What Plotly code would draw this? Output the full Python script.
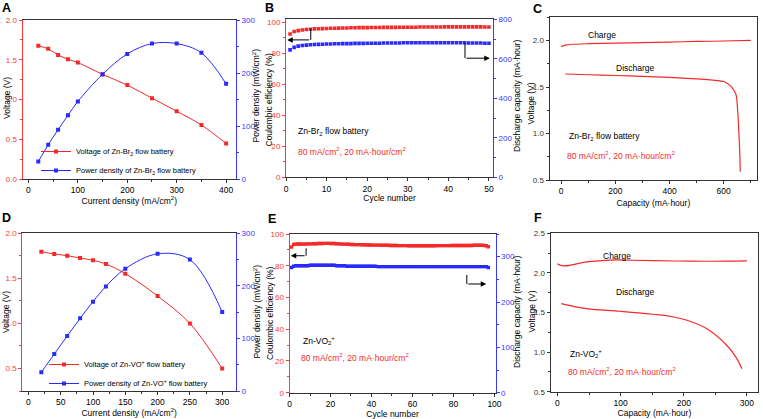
import plotly.graph_objects as go

W, H = 763, 419
FONT = "Liberation Sans, Arial, sans-serif"
RED = "#f42a2a"
BLUE = "#2a2aff"
AXR = "#ff3a3a"
AXB = "#3a3aff"
DARK = "#333333"

# ---------------- data ----------------
# Panel A: Zn-Br2 polarization
a_current = [20, 40, 60, 80, 100, 150, 200, 250, 300, 350, 400]
a_voltage = [1.675, 1.637, 1.561, 1.506, 1.464, 1.316, 1.181, 1.017, 0.852, 0.679, 0.447]
a_power = [33.0, 64.6, 93.0, 120.3, 146.2, 197.5, 236.0, 255.5, 255.5, 238.0, 179.5]

# Panel B: Zn-Br2 cycling
b_cycles = list(range(1, 51))
b_ce = [92.4, 94.0, 94.6, 95.0, 95.3, 95.5, 95.7, 95.8, 95.9, 96.0,
        96.1, 96.1, 96.2, 96.3, 96.3, 96.4, 96.4, 96.5, 96.5, 96.5,
        96.6, 96.6, 96.6, 96.7, 96.7, 96.7, 96.7, 96.8, 96.8, 96.8,
        96.8, 96.8, 96.9, 96.9, 96.9, 96.9, 96.9, 96.9, 97.0, 97.0,
        97.0, 97.0, 97.0, 97.0, 97.0, 97.0, 97.0, 97.0, 96.9, 96.9]
b_cap = [645, 658, 664, 667, 669, 671, 672, 673, 674, 675,
         675, 676, 676, 677, 677, 677, 678, 678, 678, 679,
         679, 679, 679, 680, 680, 680, 680, 680, 681, 681,
         681, 681, 681, 681, 681, 681, 681, 681, 681, 681,
         681, 681, 681, 681, 680, 680, 680, 680, 679, 679]

# Panel C: Zn-Br2 charge / discharge
c_charge_cap = [0, 15, 40, 100, 200, 300, 400, 500, 600, 700]
c_charge_v = [1.935, 1.950, 1.960, 1.966, 1.972, 1.978, 1.984, 1.990, 1.995, 2.002]
c_dis_cap = [15, 100, 200, 300, 400, 500, 560, 600, 622, 641, 647, 653, 659, 661]
c_dis_v = [1.640, 1.632, 1.624, 1.615, 1.603, 1.588, 1.574, 1.560, 1.520, 1.450, 1.400, 1.180, 0.820, 0.590]

# Panel D: Zn-VO+ polarization
d_current = [20, 40, 60, 80, 100, 120, 150, 200, 250, 300]
d_voltage = [1.796, 1.770, 1.752, 1.726, 1.700, 1.659, 1.552, 1.304, 1.000, 0.500]
d_power = [35.5, 70.4, 104.6, 138.2, 170.0, 199.0, 232.7, 261.0, 250.0, 150.3]

# Panel E: Zn-VO2+ cycling
e_cycles = list(range(1, 98))
e_ce = [91.8,
        93.4, 93.6, 93.7, 93.7, 93.6, 93.6, 93.7, 93.8, 93.8,
        93.8, 93.9, 93.9, 94.0, 94.0, 94.0, 94.1, 94.1, 94.1, 94.0,
        94.0, 94.0, 93.9, 93.8, 93.7, 93.6, 93.6, 93.5, 93.5, 93.4,
        93.4, 93.3, 93.3, 93.3, 93.2, 93.2, 93.2, 93.1, 93.1, 93.1,
        93.0, 93.0, 93.0, 93.0, 92.9, 92.9, 92.9, 92.9, 92.8, 92.8,
        92.8, 92.8, 92.7, 92.7, 92.7, 92.7, 92.7, 92.6, 92.6, 92.6,
        92.6, 92.6, 92.6, 92.6, 92.6, 92.6, 92.6, 92.6, 92.6, 92.6,
        92.6, 92.7, 92.7, 92.7, 92.7, 92.7, 92.7, 92.7, 92.8, 92.8,
        92.8, 92.8, 92.8, 92.8, 92.8, 92.8, 92.8, 92.8, 92.8, 92.9,
        92.9, 92.9, 92.9, 92.9, 92.8, 92.6, 92.0]
e_cap = [276,
         279, 280, 280, 280, 280, 280, 280, 280, 281,
         281, 281, 281, 281, 281, 281, 281, 281, 281, 281,
         281, 281, 280, 280, 280, 280, 280, 279, 279, 279,
         279, 279, 279, 279, 279, 279, 279, 279, 279, 279,
         279, 279, 278, 278, 278, 278, 278, 278, 278, 278,
         278, 278, 278, 278, 278, 278, 278, 278, 278, 278,
         278, 278, 278, 278, 278, 278, 278, 278, 278, 278,
         278, 278, 278, 278, 278, 278, 278, 278, 278, 278,
         278, 278, 278, 278, 278, 278, 278, 278, 278, 278,
         278, 278, 278, 278, 278, 278, 276]

# Panel F: Zn-VO2+ charge / discharge
f_charge_cap = [0, 9, 25, 46, 70, 94, 120, 152, 190, 231, 270, 300]
f_charge_v = [2.114, 2.088, 2.105, 2.139, 2.155, 2.164, 2.160, 2.156, 2.150, 2.147, 2.148, 2.152]
f_dis_cap = [6, 46, 99, 152, 178, 205, 236, 268, 284, 292]
f_dis_v = [1.613, 1.549, 1.516, 1.478, 1.453, 1.402, 1.297, 1.086, 0.918, 0.790]

# Annotation arrows (tail-x, tail-top-y, corner-y, tip-x) in data units
b_arrow_left = (6.1, 96.0, 88.6, 0.3)
b_arrow_right = (44.1, 86.5, 76.8, 50.2)
e_arrow_left = (8.1, 91.0, 86.3, 0.6)
e_arrow_right = (86.5, 74.2, 68.5, 96.0)

# ---------------- layout helpers ----------------
def xd(a, b):
    return [a / W, b / W]

def yd(top, bottom):
    return [1 - bottom / H, 1 - top / H]

tf = dict(family=FONT, size=8.5, color="black")

def xaxis(dom, anchor, rng, dtick, minor, title, mirror=True, standoff=1):
    return dict(domain=dom, anchor=anchor, range=rng, dtick=dtick, tick0=0,
                showline=True, linecolor=DARK, linewidth=1, mirror=mirror,
                ticks="outside", ticklen=3, tickcolor=DARK, showgrid=False, zeroline=False,
                tickfont=tf, minor=dict(ticks="outside", ticklen=2, dtick=minor, tick0=0, tickcolor=DARK),
                title=dict(text=title, font=tf, standoff=standoff))

def yaxis(dom, anchor, rng, dtick, minor, color, fmt=None, side="left", overlay=None, mirror=False):
    d = dict(domain=dom, anchor=anchor, range=rng, dtick=dtick, tick0=0, side=side,
             showline=True, linecolor=color, linewidth=1, mirror=mirror,
             ticks="outside", ticklen=3, tickcolor=color, showgrid=False, zeroline=False,
             tickfont=dict(family=FONT, size=8, color=color),
             minor=dict(ticks="outside", ticklen=2, dtick=minor, tick0=0, tickcolor=color))
    if fmt:
        d["tickformat"] = fmt
    if overlay:
        d["overlaying"] = overlay
    return d

fig = go.Figure()

# ---- A ----
fig.add_trace(go.Scatter(x=a_current, y=a_voltage, mode="lines+markers", xaxis="x", yaxis="y",
                         line=dict(color=RED, width=1, shape="spline"),
                         marker=dict(symbol="square", size=4, color=RED),
                         name="Voltage of Zn-Br<sub>2</sub> flow battery", legend="legend"))
fig.add_trace(go.Scatter(x=a_current, y=a_power, mode="lines+markers", xaxis="x", yaxis="y7",
                         line=dict(color=BLUE, width=1, shape="spline"),
                         marker=dict(symbol="square", size=4, color=BLUE),
                         name="Power density of Zn-Br<sub>2</sub> flow battery", legend="legend"))
# ---- B ----
fig.add_trace(go.Scatter(x=b_cycles, y=b_ce, mode="markers", xaxis="x2", yaxis="y2",
                         marker=dict(symbol="square", size=3.6, color=RED), showlegend=False))
fig.add_trace(go.Scatter(x=b_cycles, y=b_cap, mode="markers", xaxis="x2", yaxis="y8",
                         marker=dict(symbol="square", size=3.6, color=BLUE), showlegend=False))
# ---- C ----
fig.add_trace(go.Scatter(x=c_charge_cap, y=c_charge_v, mode="lines", xaxis="x3", yaxis="y3",
                         line=dict(color=RED, width=1.2, shape="spline", smoothing=0.6), showlegend=False))
fig.add_trace(go.Scatter(x=c_dis_cap, y=c_dis_v, mode="lines", xaxis="x3", yaxis="y3",
                         line=dict(color=RED, width=1.2, shape="spline", smoothing=0.5), showlegend=False))
# ---- D ----
fig.add_trace(go.Scatter(x=d_current, y=d_voltage, mode="lines+markers", xaxis="x4", yaxis="y4",
                         line=dict(color=RED, width=1, shape="spline"),
                         marker=dict(symbol="square", size=4, color=RED),
                         name="Voltage of Zn-VO<sup>+</sup> flow battery", legend="legend2"))
fig.add_trace(go.Scatter(x=d_current, y=d_power, mode="lines+markers", xaxis="x4", yaxis="y9",
                         line=dict(color=BLUE, width=1, shape="spline"),
                         marker=dict(symbol="square", size=4, color=BLUE),
                         name="Power density of Zn-VO<sup>+</sup> flow battery", legend="legend2"))
# ---- E ----
fig.add_trace(go.Scatter(x=e_cycles, y=e_ce, mode="markers", xaxis="x5", yaxis="y5",
                         marker=dict(symbol="square", size=3.4, color=RED), showlegend=False))
fig.add_trace(go.Scatter(x=e_cycles, y=e_cap, mode="markers", xaxis="x5", yaxis="y10",
                         marker=dict(symbol="square", size=3.4, color=BLUE), showlegend=False))
# ---- F ----
fig.add_trace(go.Scatter(x=f_charge_cap, y=f_charge_v, mode="lines", xaxis="x6", yaxis="y6",
                         line=dict(color=RED, width=1.2, shape="spline"), showlegend=False))
fig.add_trace(go.Scatter(x=f_dis_cap, y=f_dis_v, mode="lines", xaxis="x6", yaxis="y6",
                         line=dict(color=RED, width=1.2, shape="spline"), showlegend=False))

dA = (xd(22.5, 236), yd(20, 179))
dB = (xd(286, 493), yd(18.5, 177.3))
dC = (xd(549.5, 757.3), yd(17.3, 180))
dD = (xd(22.3, 236), yd(233.3, 391))
dE = (xd(289.5, 495.5), yd(234, 392.7))
dF = (xd(550.5, 758.3), yd(233.3, 391.7))

cur_title = "Current density (mA/cm<sup>2</sup>)"
pd_title = "Power density (mW/cm<sup>2</sup>)"
ce_title = "Coulombic efficiency (%)"
dc_title = "Discharge capacity (mA·hour)"
cap_title = "Capacity (mA·hour)"
v_title = "Voltage (V)"

fig.update_layout(
    xaxis=xaxis(dA[0], "y", [-12, 420], 100, 50, cur_title),
    yaxis=yaxis(dA[1], "x", [0, 2], 0.5, 0.25, AXR, fmt=".1f"),
    yaxis7=yaxis(dA[1], "x", [0, 300], 100, 50, AXB, side="right", overlay="y"),
    xaxis2=xaxis(dB[0], "y2", [0, 51], 10, 5, "Cycle number", standoff=2),
    yaxis2=yaxis(dB[1], "x2", [0, 102.4], 20, 10, AXR),
    yaxis8=yaxis(dB[1], "x2", [0, 804], 200, 100, AXB, side="right", overlay="y2"),
    xaxis3=xaxis(dC[0], "y3", [-43, 724], 200, 100, cap_title, standoff=4),
    yaxis3=yaxis(dC[1], "x3", [0.5, 2.25], 0.5, 0.25, DARK, fmt=".1f", mirror=True),
    xaxis4=xaxis(dD[0], "y4", [-9.5, 321.4], 50, 25, cur_title, standoff=2),
    yaxis4=yaxis(dD[1], "x4", [0.25, 2.0], 0.5, 0.25, AXR, fmt=".1f"),
    yaxis9=yaxis(dD[1], "x4", [0, 300], 100, 50, AXB, side="right", overlay="y4"),
    xaxis5=xaxis(dE[0], "y5", [0, 100.5], 20, 10, "Cycle number", standoff=2),
    yaxis5=yaxis(dE[1], "x5", [0, 100], 20, 10, AXR),
    yaxis10=yaxis(dE[1], "x5", [0, 350], 100, 50, AXB, side="right", overlay="y5"),
    xaxis6=xaxis(dF[0], "y6", [-11, 318], 100, 50, cap_title, standoff=2),
    yaxis6=yaxis(dF[1], "x6", [0.5, 2.5], 0.5, 0.25, DARK, fmt=".1f", mirror=True),
)

legfont = dict(family=FONT, size=7.5, color="black")
fig.update_layout(
    width=W, height=H, margin=dict(l=0, r=0, t=0, b=0, autoexpand=False),
    paper_bgcolor="white", plot_bgcolor="white",
    font=dict(family=FONT, size=8.5, color="black"),
    legend=dict(x=36 / W, y=1 - 137 / H, xanchor="left", yanchor="top",
                bgcolor="rgba(0,0,0,0)", font=legfont, tracegroupgap=0),
    legend2=dict(x=44 / W, y=1 - 350 / H, xanchor="left", yanchor="top",
                 bgcolor="rgba(0,0,0,0)", font=legfont, tracegroupgap=0),
)

ann = []
# panel letters
for letter, px, py in [("A", 0, 8), ("B", 263, 8), ("C", 531, 9), ("D", 0, 218), ("E", 266, 219), ("F", 532, 218)]:
    ann.append(dict(text="<b>%s</b>" % letter, x=px / W, y=1 - py / H, xref="paper", yref="paper",
                    xanchor="left", yanchor="middle", showarrow=False,
                    font=dict(family=FONT, size=12.5, color="black")))

# vertical axis titles (centre position in pixels)
for t, px, py in [(v_title, 7, 98), (pd_title, 256.5, 96), (ce_title, 268.5, 100), (dc_title, 517, 96),
                  (v_title, 530.5, 104), (v_title, 6, 312), (pd_title, 256.5, 312), (ce_title, 270, 313),
                  (dc_title, 517, 312), (v_title, 531.5, 312)]:
    ann.append(dict(text=t, x=px / W, y=1 - py / H, xref="paper", yref="paper", textangle=-90,
                    xanchor="center", yanchor="middle", showarrow=False, font=tf))

def txt(t, x, y, xr, yr, color="black", anchor="left"):
    ann.append(dict(text=t, x=x, y=y, xref=xr, yref=yr, xanchor=anchor, yanchor="middle",
                    showarrow=False, font=dict(family=FONT, size=8.5, color=color)))

cond = "80 mA/cm<sup>2</sup>, 20 mA·hour/cm<sup>2</sup>"
txt("Zn-Br<sub>2</sub> flow battery", 2.5, 29.4, "x2", "y2")
txt(cond, 2.5, 16.5, "x2", "y2", color=RED)
txt("Charge", 151, 2.06, "x3", "y3", anchor="center")
txt("Discharge", 273, 1.70, "x3", "y3", anchor="center")
txt("Zn-Br<sub>2</sub> flow battery", 21, 0.97, "x3", "y3")
txt(cond, 16, 0.765, "x3", "y3", color=RED)
txt("Zn-VO<sub>2</sub><sup>+</sup>", 5.5, 33.2, "x5", "y5")
txt(cond, 4.7, 21.9, "x5", "y5", color=RED)
txt("Charge", 94, 2.21, "x6", "y6", anchor="center")
txt("Discharge", 124, 1.76, "x6", "y6", anchor="center")
txt("Zn-VO<sub>2</sub><sup>+</sup>", 17, 0.98, "x6", "y6")
txt(cond, 14, 0.75, "x6", "y6", color=RED)

shapes = []
def elbow(spec, xr, yr):
    x0, ytop, ycor, xtip = spec
    shapes.append(dict(type="line", x0=x0, x1=x0, y0=ytop, y1=ycor, xref=xr, yref=yr,
                       line=dict(color="black", width=1)))
    ann.append(dict(text="", x=xtip, y=ycor, ax=x0, ay=ycor, xref=xr, yref=yr, axref=xr, ayref=yr,
                    showarrow=True, arrowhead=2, arrowsize=1.1, arrowwidth=1, arrowcolor="black"))

elbow(b_arrow_left, "x2", "y2")
elbow(b_arrow_right, "x2", "y2")
elbow(e_arrow_left, "x5", "y5")
elbow(e_arrow_right, "x5", "y5")

fig.update_layout(annotations=ann, shapes=shapes)
fig.write_html("out.html", config={"displayModeBar": False},
               post_script="document.body.style.margin='0';document.body.style.overflow='hidden';")
